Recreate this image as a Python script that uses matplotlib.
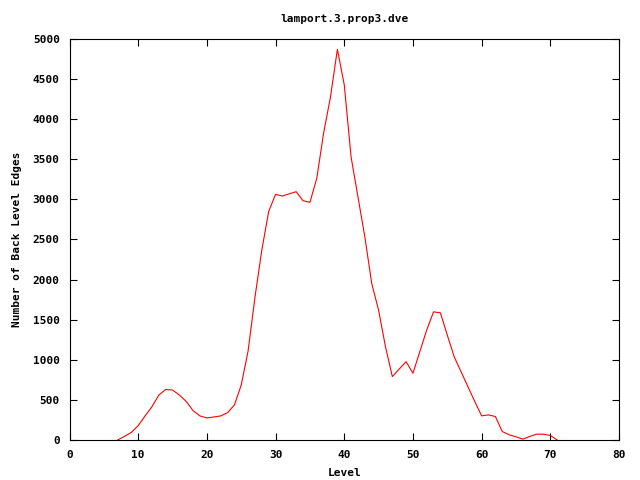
import matplotlib
matplotlib.use("Agg")
import matplotlib.pyplot as plt

# data
levels = list(range(7, 72))
edges = [
    0, 45, 95, 180, 300, 415, 560, 630, 623, 560,      # 7-16
    480, 365, 300, 275, 287, 300, 340, 436, 685, 1110,  # 17-26
    1780, 2370, 2850, 3063, 3042, 3070, 3096, 2984, 2963, 3263,  # 27-36
    3830, 4281, 4871, 4430, 3526, 3029, 2532, 1951, 1619, 1163,  # 37-46
    790, 885, 977, 832, 1101, 1370, 1598, 1586, 1308, 1039,  # 47-56
    852, 666, 480, 301, 313, 293, 106, 65, 40, 11,      # 57-66
    44, 73, 73, 56, 0,                                  # 67-71
]

TITLE = "lamport.3.prop3.dve"
XLABEL = "Level"
YLABEL = "Number of Back Level Edges"

FONT = "DejaVu Sans Mono"

fig = plt.figure(figsize=(6.4, 4.8), dpi=100)
ax = fig.add_axes([69.5 / 640, 1 - 440 / 480, (619 - 69.5) / 640, (440 - 39) / 480])

ax.plot(levels, edges, color="#ff0000", lw=0.8)

ax.set_xlim(0, 80)
ax.set_ylim(0, 5000)
ax.set_xticks(range(0, 81, 10))
ax.set_yticks(range(0, 5001, 500))
ax.tick_params(direction="in", length=5, width=0.8, top=True, right=True,
               labelsize=8, pad=7)
for lab in ax.get_xticklabels() + ax.get_yticklabels():
    lab.set_fontfamily(FONT)
    lab.set_fontweight("bold")
for s in ax.spines.values():
    s.set_linewidth(0.8)

ax.set_title(TITLE, fontfamily=FONT, fontweight="bold", fontsize=8, pad=12)
ax.set_xlabel(XLABEL, fontfamily=FONT, fontweight="bold", fontsize=8, labelpad=6)
ax.set_ylabel(YLABEL, fontfamily=FONT, fontweight="bold", fontsize=8, labelpad=8)

fig.savefig("out.png", dpi=100)
